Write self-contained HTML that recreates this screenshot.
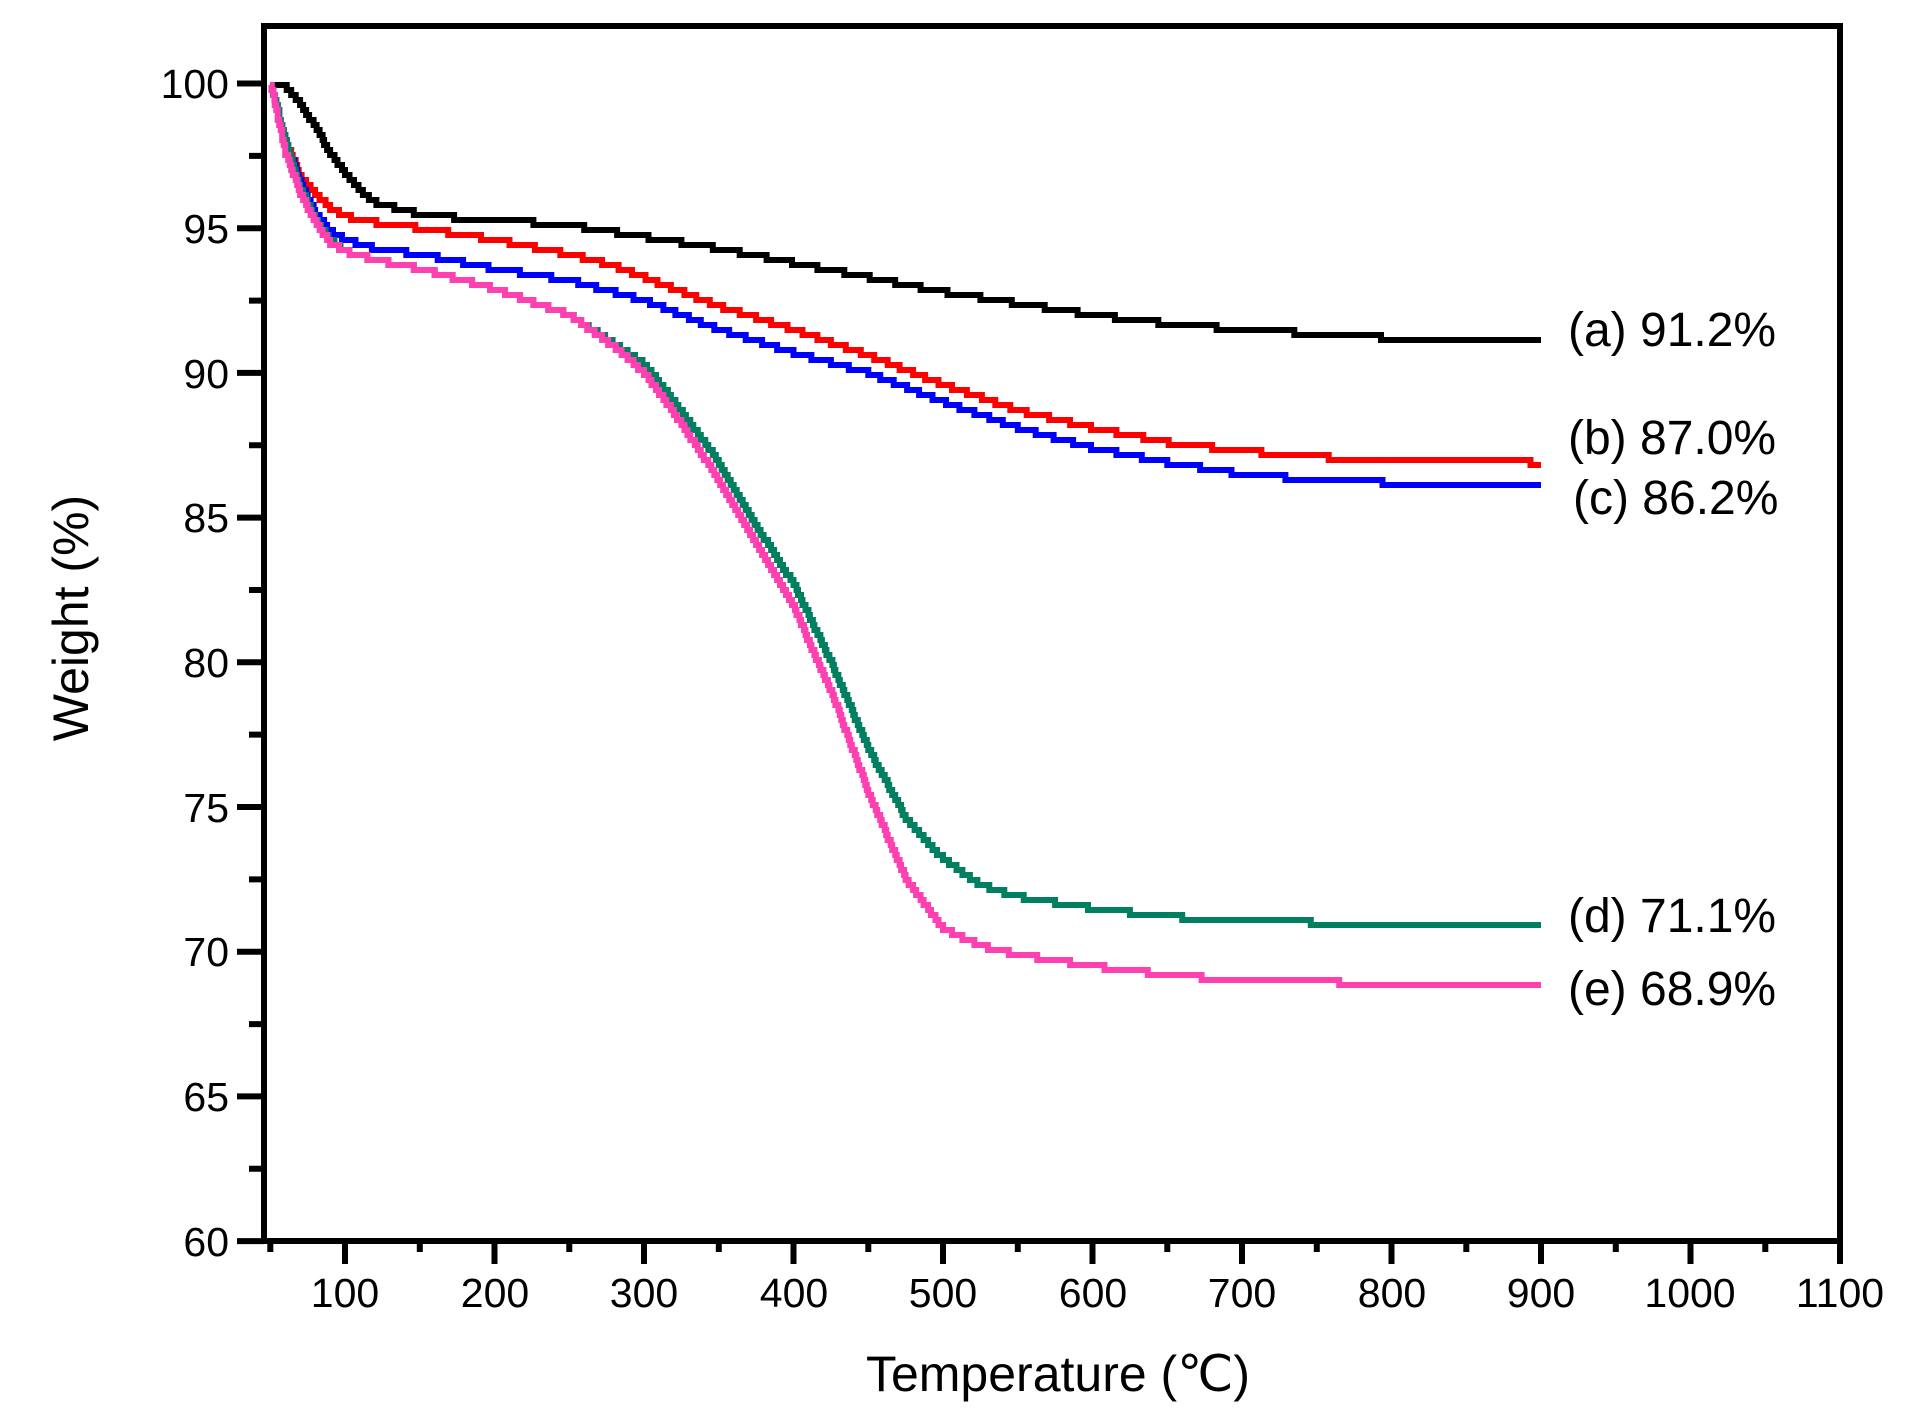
<!DOCTYPE html>
<html><head><meta charset="utf-8"><style>
html,body{margin:0;padding:0;background:#fff;}
svg{display:block;font-family:"Liberation Sans",Arial,sans-serif;}
</style></head><body>
<svg id="s" width="1907" height="1427" viewBox="0 0 1907 1427" xmlns="http://www.w3.org/2000/svg">
<rect width="1907" height="1427" fill="#fff"/>
<g id="curves" fill="none" stroke-width="6" stroke-linejoin="miter"></g>
<rect x="264" y="26" width="1576" height="1215" fill="none" stroke="#000" stroke-width="6"/>
<g id="ticks" stroke="#000" stroke-width="6"></g>
<g font-size="41" text-anchor="end" fill="#000">
<text x="229" y="98">100</text>
<text x="229" y="243">95</text>
<text x="229" y="388">90</text>
<text x="229" y="532">85</text>
<text x="229" y="677">80</text>
<text x="229" y="822">75</text>
<text x="229" y="966">70</text>
<text x="229" y="1111">65</text>
<text x="229" y="1256">60</text>
</g>
<g font-size="41" text-anchor="middle" fill="#000">
<text x="345" y="1307">100</text>
<text x="495" y="1307">200</text>
<text x="644" y="1307">300</text>
<text x="794" y="1307">400</text>
<text x="943" y="1307">500</text>
<text x="1093" y="1307">600</text>
<text x="1242" y="1307">700</text>
<text x="1392" y="1307">800</text>
<text x="1541" y="1307">900</text>
<text x="1690" y="1307">1000</text>
<text x="1840" y="1307">1100</text>
</g>
<text x="1058" y="1391" font-size="50" text-anchor="middle">Temperature (℃)</text>
<text transform="translate(88,618) rotate(-90)" font-size="50" text-anchor="middle">Weight (%)</text>
<g font-size="48" fill="#000">
<text x="1568" y="346">(a) 91.2%</text>
<text x="1568" y="454">(b) 87.0%</text>
<text x="1573" y="514">(c) 86.2%</text>
<text x="1568" y="932">(d) 71.1%</text>
<text x="1568" y="1005">(e) 68.9%</text>
</g>
</svg>
<script>
var X=function(t){return 345+(t-100)*1.495;};
var Y=function(w){return 83.5+(100-w)*28.94;};
var data={
"#000":[[50,100],[60,99.9],[70,99.3],[80,98.5],[90,97.6],[100,96.9],[110,96.3],[120,95.9],[140,95.6],[160,95.4],[200,95.3],[250,95.1],[300,94.7],[350,94.3],[400,93.8],[450,93.3],[500,92.8],[550,92.4],[600,92.0],[650,91.7],[700,91.5],[750,91.35],[800,91.2],[900,91.2]],
"#ff0000":[[50,100],[60,98],[70,96.8],[80,96.2],[90,95.7],[100,95.4],[120,95.2],[150,95.0],[200,94.6],[250,94.1],[280,93.7],[300,93.3],[330,92.7],[350,92.3],[400,91.5],[450,90.6],[500,89.6],[550,88.7],[600,88.1],[650,87.6],[700,87.3],[750,87.1],[800,86.95],[900,86.9]],
"#0000ff":[[50,100],[60,98],[70,96.6],[80,95.5],[90,94.9],[100,94.6],[120,94.3],[150,94.1],[200,93.6],[250,93.2],[300,92.5],[350,91.5],[400,90.7],[450,90.0],[500,89.0],[550,88.1],[600,87.4],[650,86.9],[700,86.5],[750,86.3],[800,86.2],[900,86.15]],
"#008060":[[50,100],[60,98],[70,96.4],[80,95.3],[90,94.6],[100,94.2],[120,93.9],[150,93.6],[200,92.9],[250,92.0],[280,91.0],[300,90.3],[320,89.0],[350,86.9],[375,84.7],[400,82.7],[425,80.0],[450,77.0],[475,74.6],[500,73.2],[525,72.3],[550,71.9],[600,71.5],[650,71.2],[700,71.1],[750,71.0],[900,71.0]],
"#ff40b0":[[50,100],[60,97.6],[70,96.2],[80,95.2],[90,94.5],[100,94.2],[120,93.9],[150,93.6],[200,92.9],[250,92.0],[280,90.9],[300,90.0],[320,88.6],[350,86.3],[375,84.1],[400,81.9],[425,79.0],[450,75.5],[475,72.5],[500,70.8],[525,70.2],[550,69.9],[600,69.5],[650,69.2],[700,69.0],[800,68.9],[900,68.85]]
};
function interp(p,t){for(var i=1;i<p.length;i++){if(t<=p[i][0]){var a=p[i-1],b=p[i];return a[1]+(b[1]-a[1])*(t-a[0])/(b[0]-a[0]);}}return p[p.length-1][1];}
var g=document.getElementById('curves'),ns="http://www.w3.org/2000/svg";
for(var c in data){var p=data[c],s="",prev=null;
for(var t=50;t<=900;t+=1){var w=interp(p,t);var y=Y(w);y=Math.round(y/5)*5;var x=X(t);
if(prev===null){s+="M"+x.toFixed(1)+","+y;prev=y;}else if(y!==prev){s+="H"+x.toFixed(1)+"V"+y;prev=y;}}
s+="H"+X(900).toFixed(1);
var e=document.createElementNS(ns,"path");e.setAttribute("d",s);e.setAttribute("stroke",c);g.appendChild(e);}
var t=document.getElementById('ticks'),s="";
for(var w=60;w<=100;w+=2.5){var y=Y(w),maj=(w%5==0);s+="M"+(maj?237:249)+","+y.toFixed(1)+"H264";}
for(var T=50;T<=1100;T+=50){var x=X(T),maj=(T%100==0);s+="M"+x.toFixed(1)+",1241V"+(maj?1264:1252);}
var e=document.createElementNS(ns,"path");e.setAttribute("d",s);t.appendChild(e);
</script>
</body></html>
